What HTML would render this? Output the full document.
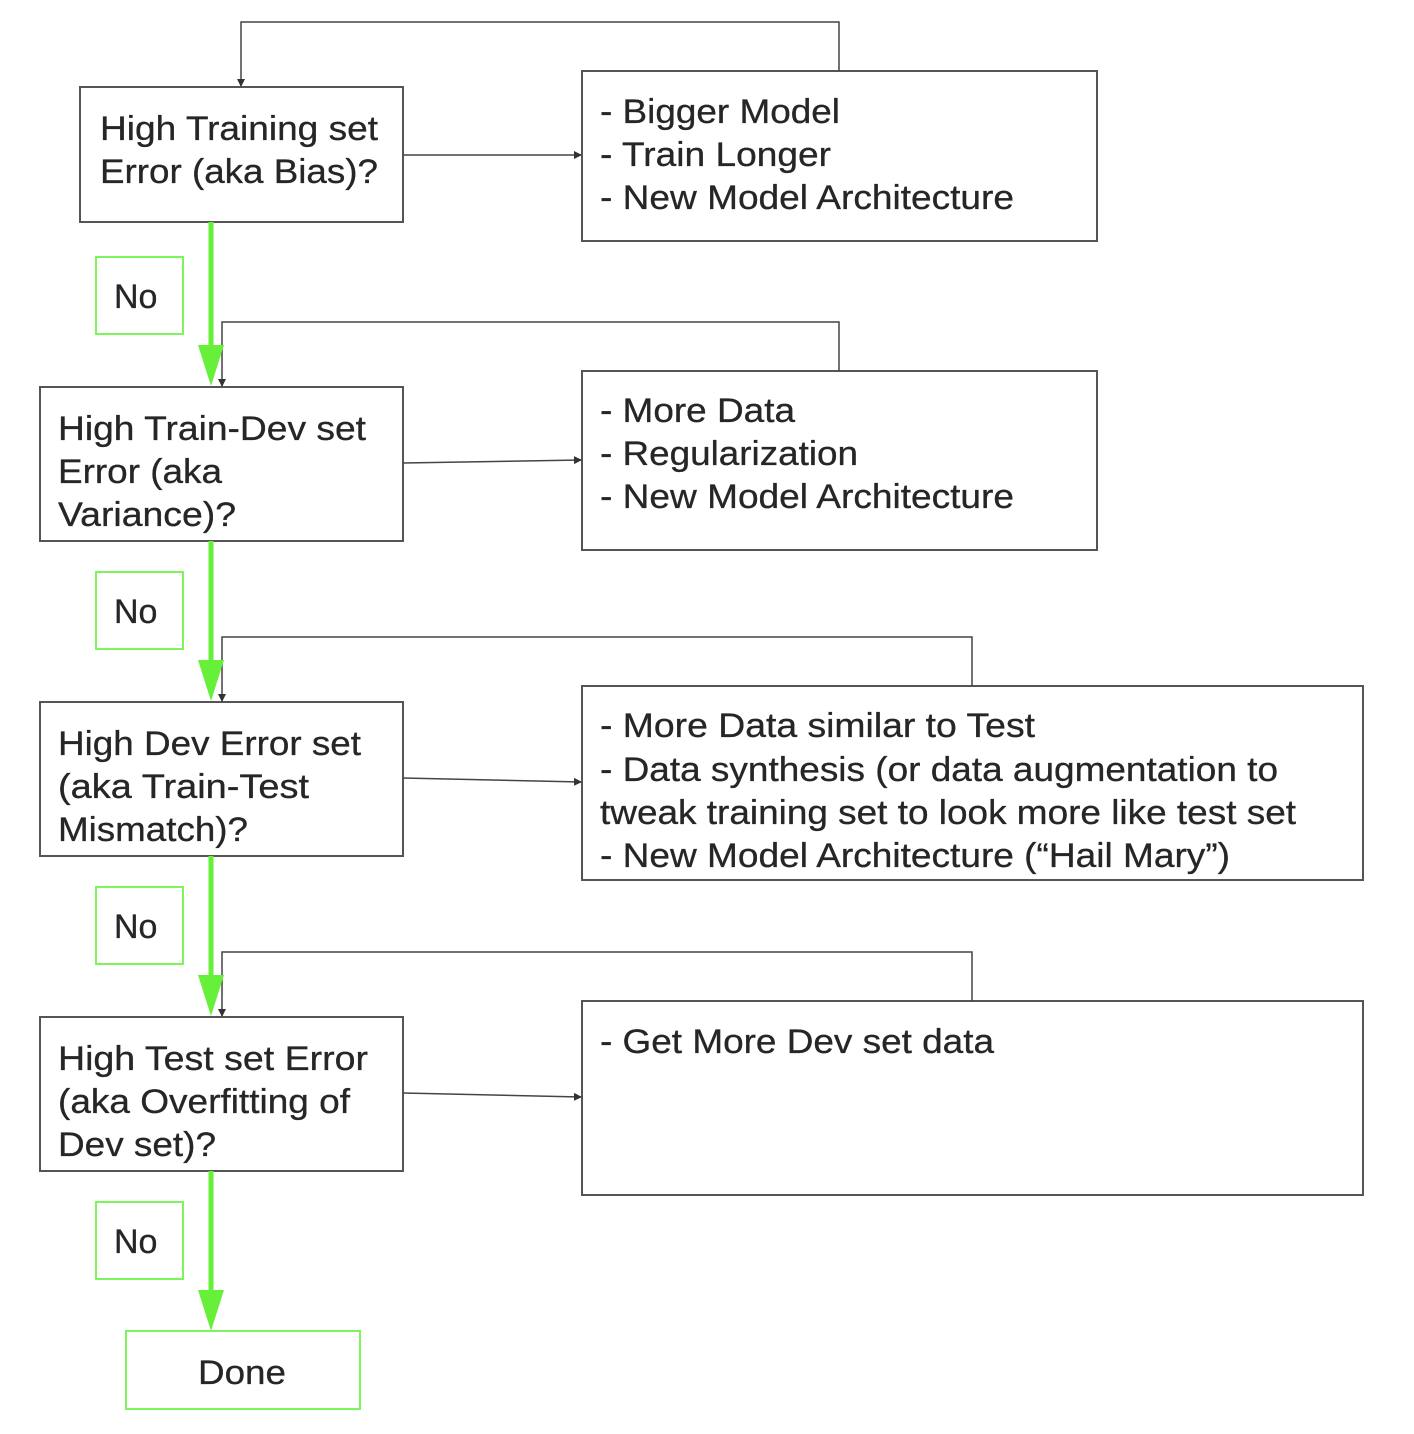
<!DOCTYPE html>
<html><head><meta charset="utf-8"><style>
html,body{margin:0;padding:0;background:#fff;}
svg{display:block;}
text{font-family:"Liberation Sans",Arial,sans-serif;font-size:34px;fill:#262626;stroke:#262626;stroke-width:0.3px;}
</style></head><body>
<svg width="1414" height="1434" viewBox="0 0 1414 1434" xmlns="http://www.w3.org/2000/svg">
<defs>
<marker id="a" markerWidth="8" markerHeight="8" refX="7" refY="4" orient="auto" markerUnits="userSpaceOnUse"><path d="M0,0 L8,4 L0,8 z" fill="#333"/></marker>
</defs>
<g fill="none" stroke="#555" stroke-width="2">
<rect x="80" y="87" width="323" height="135"/>
<rect x="582" y="71" width="515" height="170"/>
<rect x="40" y="387" width="363" height="154"/>
<rect x="582" y="371" width="515" height="179"/>
<rect x="40" y="702" width="363" height="154"/>
<rect x="582" y="686" width="781" height="194"/>
<rect x="40" y="1017" width="363" height="154"/>
<rect x="582" y="1001" width="781" height="194"/>
</g>
<g fill="none" stroke="#444" stroke-width="1.5">
<polyline points="839,71 839,22 241,22 241,86" marker-end="url(#a)"/>
<line x1="403" y1="155" x2="581" y2="155" marker-end="url(#a)"/>
<polyline points="839,371 839,322 222,322 222,386" marker-end="url(#a)"/>
<line x1="403" y1="463" x2="581" y2="460" marker-end="url(#a)"/>
<polyline points="972,686 972,637 222,637 222,701" marker-end="url(#a)"/>
<line x1="403" y1="778" x2="581" y2="782" marker-end="url(#a)"/>
<polyline points="972,1001 972,952 222,952 222,1016" marker-end="url(#a)"/>
<line x1="403" y1="1093" x2="581" y2="1097" marker-end="url(#a)"/>
</g>
<g stroke="#66f03a" stroke-width="5">
<line x1="211" y1="222" x2="211" y2="350"/>
<line x1="211" y1="541" x2="211" y2="665"/>
<line x1="211" y1="856" x2="211" y2="980"/>
<line x1="211" y1="1171" x2="211" y2="1295"/>
</g>
<g fill="#66f03a">
<path d="M198,345 L224,345 L211,386 z"/>
<path d="M198,660 L224,660 L211,701 z"/>
<path d="M198,975 L224,975 L211,1016 z"/>
<path d="M198,1290 L224,1290 L211,1331 z"/>
</g>
<g fill="none" stroke="#7cf55a" stroke-width="2">
<rect x="96" y="257" width="87" height="77"/>
<rect x="96" y="572" width="87" height="77"/>
<rect x="96" y="887" width="87" height="77"/>
<rect x="96" y="1202" width="87" height="77"/>
<rect x="126" y="1331" width="234" height="78"/>
</g>
<text x="100" y="140" textLength="278" lengthAdjust="spacingAndGlyphs">High Training set</text>
<text x="100" y="183" textLength="278" lengthAdjust="spacingAndGlyphs">Error (aka Bias)?</text>
<text x="600" y="123" textLength="240" lengthAdjust="spacingAndGlyphs">- Bigger Model</text>
<text x="600" y="166" textLength="231" lengthAdjust="spacingAndGlyphs">- Train Longer</text>
<text x="600" y="209" textLength="414" lengthAdjust="spacingAndGlyphs">- New Model Architecture</text>
<text x="114" y="308">No</text>
<text x="58" y="440" textLength="308" lengthAdjust="spacingAndGlyphs">High Train-Dev set</text>
<text x="58" y="483" textLength="164" lengthAdjust="spacingAndGlyphs">Error (aka</text>
<text x="58" y="526" textLength="178" lengthAdjust="spacingAndGlyphs">Variance)?</text>
<text x="600" y="422" textLength="195" lengthAdjust="spacingAndGlyphs">- More Data</text>
<text x="600" y="465" textLength="258" lengthAdjust="spacingAndGlyphs">- Regularization</text>
<text x="600" y="508" textLength="414" lengthAdjust="spacingAndGlyphs">- New Model Architecture</text>
<text x="114" y="623">No</text>
<text x="58" y="755" textLength="303" lengthAdjust="spacingAndGlyphs">High Dev Error set</text>
<text x="58" y="798" textLength="251" lengthAdjust="spacingAndGlyphs">(aka Train-Test</text>
<text x="58" y="841" textLength="190" lengthAdjust="spacingAndGlyphs">Mismatch)?</text>
<text x="600" y="737" textLength="435" lengthAdjust="spacingAndGlyphs">- More Data similar to Test</text>
<text x="600" y="781" textLength="678" lengthAdjust="spacingAndGlyphs">- Data synthesis (or data augmentation to</text>
<text x="600" y="824" textLength="696" lengthAdjust="spacingAndGlyphs">tweak training set to look more like test set</text>
<text x="600" y="867" textLength="630" lengthAdjust="spacingAndGlyphs">- New Model Architecture (“Hail Mary”)</text>
<text x="114" y="938">No</text>
<text x="58" y="1070" textLength="310" lengthAdjust="spacingAndGlyphs">High Test set Error</text>
<text x="58" y="1113" textLength="292" lengthAdjust="spacingAndGlyphs">(aka Overfitting of</text>
<text x="58" y="1156" textLength="158" lengthAdjust="spacingAndGlyphs">Dev set)?</text>
<text x="600" y="1053" textLength="394" lengthAdjust="spacingAndGlyphs">- Get More Dev set data</text>
<text x="114" y="1253">No</text>
<text x="198" y="1384" textLength="88" lengthAdjust="spacingAndGlyphs">Done</text>
</svg>
</body></html>
